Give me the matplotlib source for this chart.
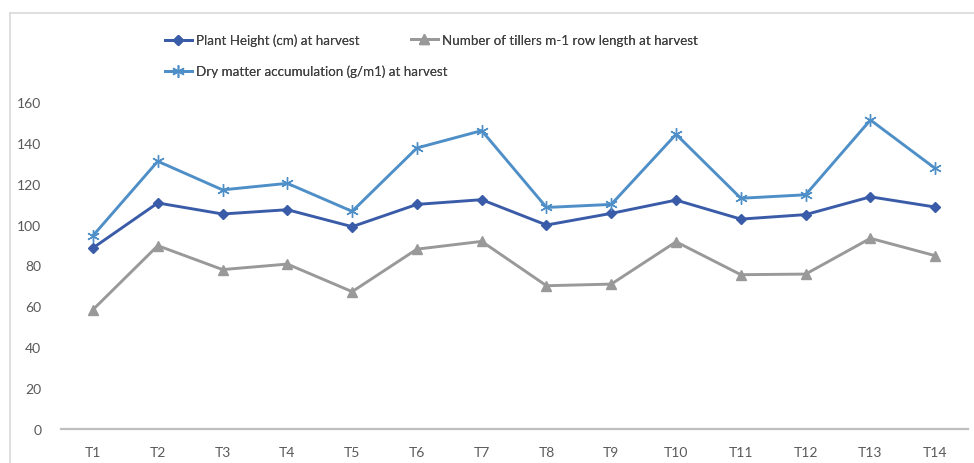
import matplotlib.pyplot as plt
from matplotlib.lines import Line2D

treatments = ['T1', 'T2', 'T3', 'T4', 'T5', 'T6', 'T7', 'T8', 'T9', 'T10', 'T11', 'T12', 'T13', 'T14']
plant_height = [88.6, 110.6, 105.2, 107.3, 99.0, 109.9, 112.2, 99.8, 105.5, 112.0, 102.7, 104.9, 113.6, 108.6]
tillers = [58.4, 89.7, 78.0, 80.7, 67.2, 88.0, 91.8, 70.1, 70.9, 91.6, 75.5, 75.8, 93.3, 84.8]
dry_matter = [94.6, 131.0, 117.0, 120.2, 106.5, 137.5, 146.0, 108.4, 109.9, 144.2, 112.9, 114.6, 151.2, 127.5]
y_ticks = [0, 20, 40, 60, 80, 100, 120, 140, 160]

labels = ['Plant Height (cm) at harvest',
          'Number of tillers m-1 row length at harvest',
          'Dry matter accumulation (g/m1) at harvest']
colors = ['#3a5ca8', '#999999', '#4f8fc8']

plt.rcParams['font.family'] = ['Lato', 'DejaVu Sans']

fig = plt.figure(figsize=(9.74, 4.64), dpi=100, facecolor='white')
ax = fig.add_axes([60.6 / 974, 34 / 464, 907 / 974, 327 / 464])

x = list(range(len(treatments)))
h1, = ax.plot(x, plant_height, color=colors[0], lw=2.1, marker='D', ms=5, clip_on=False)
h2, = ax.plot(x, tillers, color=colors[1], lw=2.1, marker='^', ms=7, clip_on=False)
h3, = ax.plot(x, dry_matter, color=colors[2], lw=2.1, marker=(6, 2, 0), ms=9,
              mew=1.0, clip_on=False)

ax.set_xlim(-0.5, len(treatments) - 0.5)
ax.set_ylim(0, 160)
ax.set_xticks(x)
ax.set_xticklabels(treatments)
ax.set_yticks(y_ticks)
ax.tick_params(axis='both', length=0, labelsize=10, labelcolor='#595959')
ax.tick_params(axis='x', pad=12)
ax.tick_params(axis='y', pad=14)
for side in ['top', 'right', 'left']:
    ax.spines[side].set_visible(False)
ax.spines['bottom'].set_color('#bfbfbf')
ax.spines['bottom'].set_linewidth(1.6)

# legend entries placed like the original (two on top row, one below)
legend_pos = [(165 / 974, 1 - 41 / 464), (411 / 974, 1 - 41 / 464), (165 / 974, 1 - 72 / 464)]
for h, lab, pos in zip([h1, h2, h3], labels, legend_pos):
    leg = fig.legend([h], [lab], loc='center left', bbox_to_anchor=pos, frameon=False,
                     fontsize=9.6, handlelength=2.0, handletextpad=0.3,
                     borderaxespad=0, borderpad=0, labelcolor='#404040')
    fig.add_artist(leg)

# light outer chart frame, only top and left edges are inside the picture
top = 1 - 14 / 464
left = 10 / 974
fig.add_artist(Line2D([left, 1], [top, top], transform=fig.transFigure, color='#d9d9d9', lw=1.2))
fig.add_artist(Line2D([left, left], [0, top], transform=fig.transFigure, color='#d9d9d9', lw=1.2))

fig.savefig('out.png', dpi=100)
